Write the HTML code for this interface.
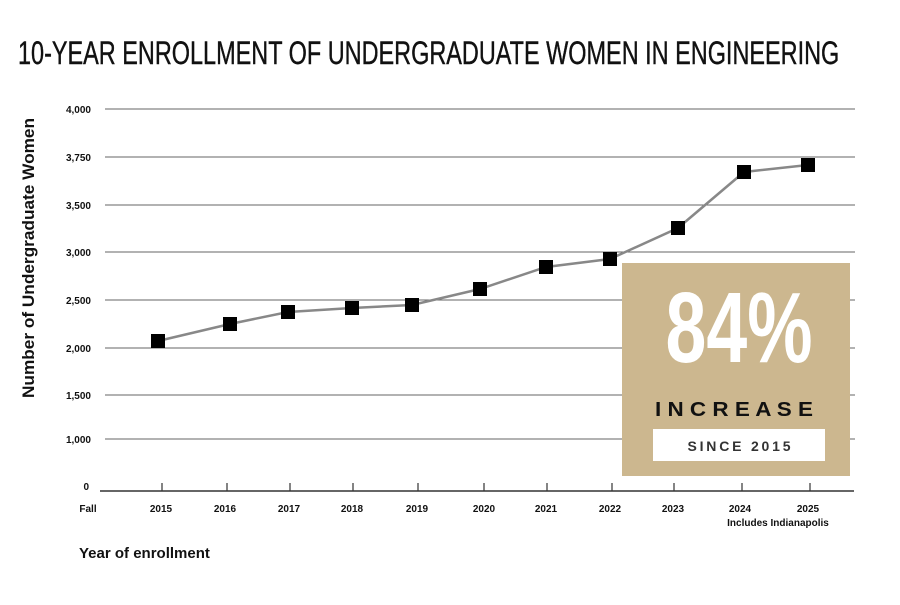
<!DOCTYPE html>
<html><head><meta charset="utf-8"><style>
body{margin:0;background:#fff;width:900px;height:600px;overflow:hidden;font-family:"Liberation Sans",sans-serif}
</style></head><body>
<svg width="900" height="600" xmlns="http://www.w3.org/2000/svg" font-family="Liberation Sans, sans-serif">
<text x="18" y="64" font-size="32" transform="translate(18,0) scale(0.86,1) translate(-18,0)" fill="#111" stroke="#111" stroke-width="0.4" textLength="955" lengthAdjust="spacingAndGlyphs">10-YEAR ENROLLMENT OF UNDERGRADUATE WOMEN IN ENGINEERING</text>
<g stroke="#666" stroke-width="1">
<line x1="105" y1="109" x2="855" y2="109"/><line x1="105" y1="157" x2="855" y2="157"/>
<line x1="105" y1="205" x2="855" y2="205"/><line x1="105" y1="252" x2="855" y2="252"/>
<line x1="105" y1="300" x2="855" y2="300"/><line x1="105" y1="348" x2="855" y2="348"/>
<line x1="105" y1="395" x2="855" y2="395"/><line x1="105" y1="439" x2="855" y2="439"/>
</g>
<line x1="100" y1="491" x2="854" y2="491" stroke="#333" stroke-width="1.5"/>
<g stroke="#333" stroke-width="1.2">
<line x1="162" y1="483" x2="162" y2="491"/><line x1="227" y1="483" x2="227" y2="491"/>
<line x1="290" y1="483" x2="290" y2="491"/><line x1="353" y1="483" x2="353" y2="491"/>
<line x1="418" y1="483" x2="418" y2="491"/><line x1="484" y1="483" x2="484" y2="491"/>
<line x1="547" y1="483" x2="547" y2="491"/><line x1="612" y1="483" x2="612" y2="491"/>
<line x1="674" y1="483" x2="674" y2="491"/><line x1="742" y1="483" x2="742" y2="491"/>
<line x1="810" y1="483" x2="810" y2="491"/>
</g>
<g font-size="10" font-weight="bold" text-anchor="end" fill="#111">
<text x="91" y="113">4,000</text><text x="91" y="161">3,750</text><text x="91" y="209">3,500</text>
<text x="91" y="256">3,000</text><text x="91" y="304">2,500</text><text x="91" y="352">2,000</text>
<text x="91" y="399">1,500</text><text x="91" y="443">1,000</text><text x="89" y="490">0</text>
</g>
<g font-size="10" font-weight="bold" text-anchor="middle" fill="#111">
<text x="88" y="512">Fall</text>
<text x="161" y="512">2015</text><text x="225" y="512">2016</text><text x="289" y="512">2017</text>
<text x="352" y="512">2018</text><text x="417" y="512">2019</text><text x="484" y="512">2020</text>
<text x="546" y="512">2021</text><text x="610" y="512">2022</text><text x="673" y="512">2023</text>
<text x="740" y="512">2024</text><text x="808" y="512">2025</text>
<text x="778" y="526">Includes Indianapolis</text>
</g>
<text x="79" y="558" font-size="15" font-weight="bold" fill="#111">Year of enrollment</text>
<text transform="translate(34,258) rotate(-90)" font-size="16.5" font-weight="bold" text-anchor="middle" fill="#111" textLength="280" lengthAdjust="spacingAndGlyphs">Number of Undergraduate Women</text>
<polyline fill="none" stroke="#888" stroke-width="2.5" points="158,341 230,324 288,312 352,308 412,305 480,289 546,267 610,259 678,228 744,172 808,165"/>
<g fill="#000">
<rect x="151" y="334" width="14" height="14"/><rect x="223" y="317" width="14" height="14"/>
<rect x="281" y="305" width="14" height="14"/><rect x="345" y="301" width="14" height="14"/>
<rect x="405" y="298" width="14" height="14"/><rect x="473" y="282" width="14" height="14"/>
<rect x="539" y="260" width="14" height="14"/><rect x="603" y="252" width="14" height="14"/>
<rect x="671" y="221" width="14" height="14"/><rect x="737" y="165" width="14" height="14"/>
<rect x="801" y="158" width="14" height="14"/>
</g>
<rect x="622" y="263" width="228" height="213" fill="#ccb78f"/>
<text x="739" y="362" font-size="100" font-weight="bold" fill="#fff" text-anchor="middle" textLength="147" lengthAdjust="spacingAndGlyphs">84%</text>
<text x="734" y="416" font-size="20" font-weight="bold" fill="#111" text-anchor="middle" textLength="158" lengthAdjust="spacingAndGlyphs">I N C R E A S E</text>
<rect x="653" y="429" width="172" height="32" fill="#fff"/>
<text x="739" y="451" font-size="14" font-weight="bold" fill="#333" text-anchor="middle" textLength="103" lengthAdjust="spacing">SINCE 2015</text>
</svg>
</body></html>
